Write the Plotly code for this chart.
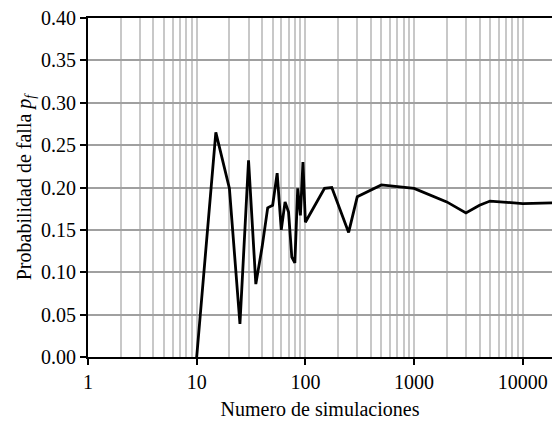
import plotly.graph_objects as go

n_sim = [10, 15, 20, 25, 30, 35, 40, 45, 50, 55, 60, 65, 70, 75, 80, 85, 90, 95, 100,
         150, 175, 250, 300, 500, 1000, 2000, 3000, 4000, 5000, 10000, 20000]
p_f = [0.0, 0.265, 0.199, 0.039, 0.232, 0.086, 0.13, 0.176, 0.179, 0.217, 0.150, 0.183,
       0.171, 0.118, 0.111, 0.199, 0.167, 0.230, 0.159,
       0.199, 0.200, 0.147, 0.189, 0.203, 0.199, 0.183, 0.170, 0.179, 0.184, 0.181, 0.182]

x_tickvals = [1, 10, 100, 1000, 10000]
x_ticktext = ["1", "10", "100", "1000", "10000"]

FONT = "Liberation Serif, Times New Roman, serif"
FS = 20

fig = go.Figure()
fig.add_trace(go.Scatter(x=n_sim, y=p_f, mode="lines",
                         line=dict(color="black", width=2.8), showlegend=False))

fig.update_layout(
    width=552, height=424,
    margin=dict(l=88, r=0, t=18, b=67),
    plot_bgcolor="white", paper_bgcolor="white",
    font=dict(family=FONT, size=FS, color="black"),
)
fig.update_xaxes(
    type="log", range=[0, 4.269], automargin=False,
    tickvals=x_tickvals, ticktext=x_ticktext,
    ticks="outside", ticklen=6, tickwidth=1.5, tickcolor="black",
    showline=True, linecolor="black", linewidth=1.5, mirror=True,
    showgrid=True, gridcolor="#c8c8c8", gridwidth=1.5,
    minor=dict(dtick="D1", showgrid=True, gridcolor="#c8c8c8", gridwidth=1.5, ticks=""),
    title=dict(text="Numero de simulaciones", font=dict(family=FONT, size=FS), standoff=10),
    tickfont=dict(family=FONT, size=FS),
    zeroline=False,
)
fig.update_yaxes(
    range=[0, 0.40], dtick=0.05, tickformat=".2f", automargin=False,
    ticks="outside", ticklen=6, tickwidth=1.5, tickcolor="black",
    showline=True, linecolor="black", linewidth=2, mirror=False,
    showgrid=True, gridcolor="#a0a0a0", gridwidth=1.5,
    title=dict(text="Probabilidad de falla <i>p</i><sub><i>f</i></sub>",
               font=dict(family=FONT, size=FS), standoff=4),
    tickfont=dict(family=FONT, size=FS),
    zeroline=False,
)

fig.write_html("out.html", config={"displayModeBar": False},
               post_script="document.body.style.margin='0';document.body.style.overflow='hidden';")
